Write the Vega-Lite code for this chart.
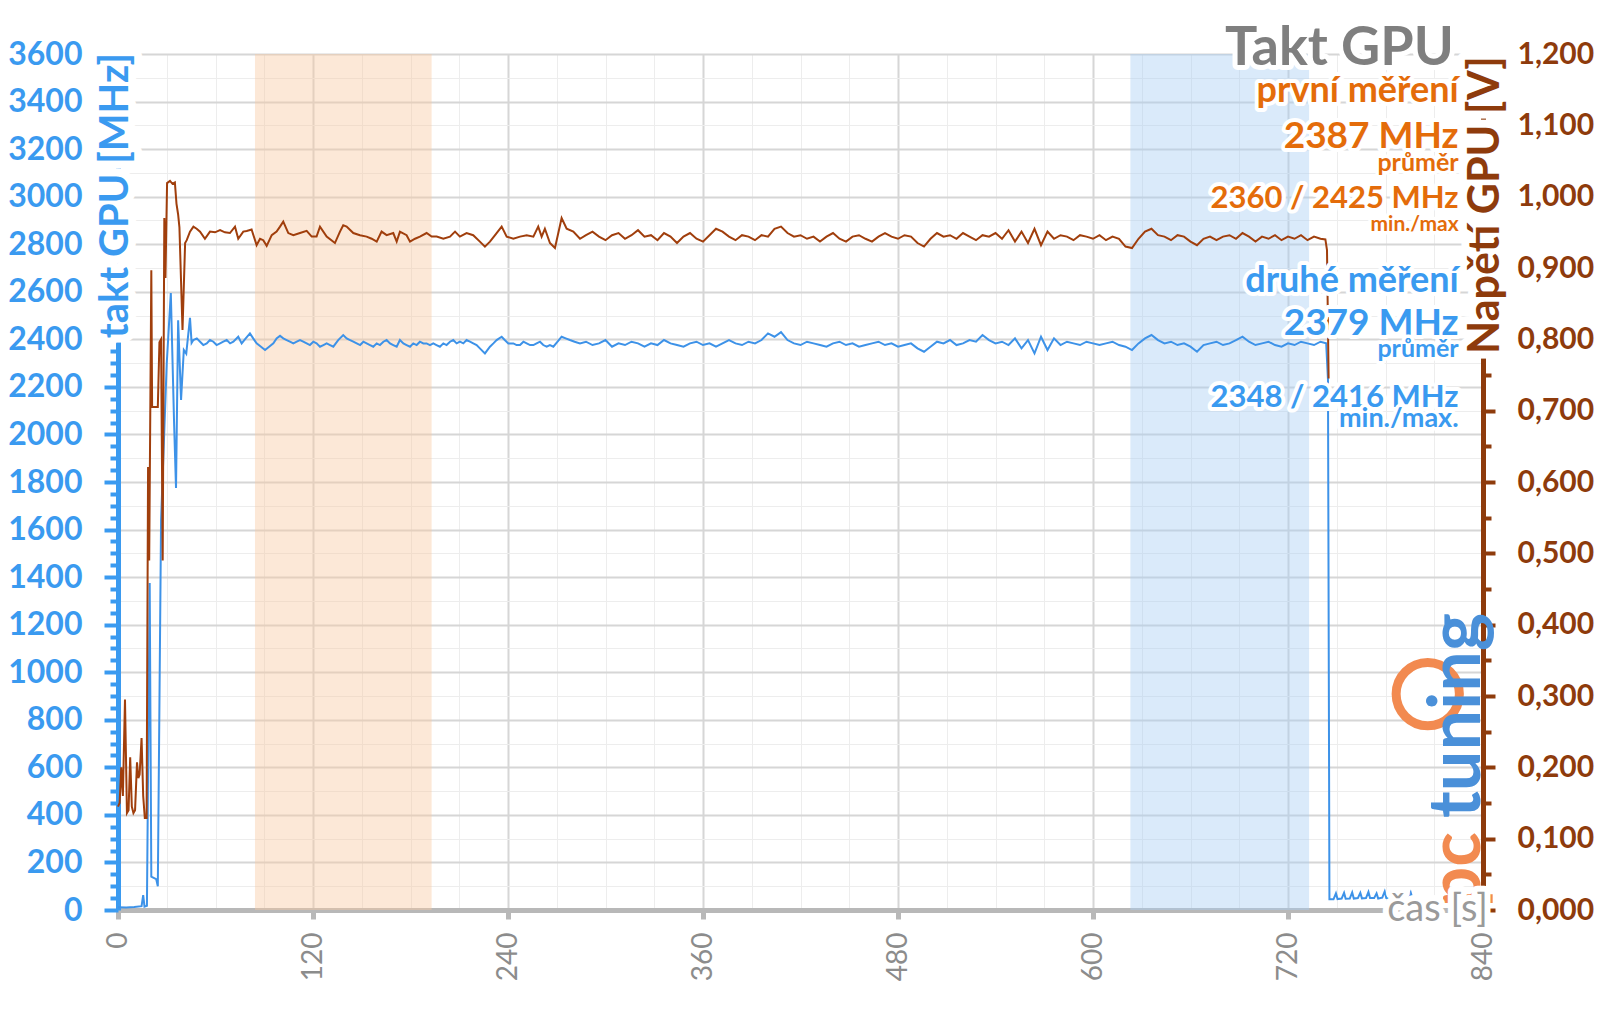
{
"$schema": "https://vega.github.io/schema/vega-lite/v6.json",
"width": 1365, "height": 856,
"autosize": {"type": "none"},
"padding": {"left": 118, "top": 54, "right": 117, "bottom": 99},
"background": "white",
"config": {"view": {"stroke": null}, "font": "Lato"},
"datasets": {
"clock": [
{"t":0,"mhz":12},{"t":5,"mhz":11},{"t":10,"mhz":13},{"t":14.5,"mhz":16},{"t":15.5,"mhz":63},{"t":16.3,"mhz":14},{"t":17.8,"mhz":18},{"t":19.5,"mhz":1375},{"t":20.5,"mhz":140},{"t":23.5,"mhz":130},{"t":24.5,"mhz":100},{"t":26.5,"mhz":1640},{"t":30,"mhz":2300},{"t":32.5,"mhz":2595},{"t":34.5,"mhz":2050},{"t":35.7,"mhz":1775},{"t":37,"mhz":2480},{"t":38.8,"mhz":2145},{"t":40.5,"mhz":2355},{"t":42,"mhz":2340},{"t":44.3,"mhz":2490},{"t":45.3,"mhz":2385},
{"t":46.4,"mhz":2397},{"t":48.5,"mhz":2404},{"t":50.5,"mhz":2390},{"t":52.5,"mhz":2376},{"t":54.6,"mhz":2383},{"t":56.6,"mhz":2397},{"t":58.7,"mhz":2390},{"t":60.7,"mhz":2376},{"t":62.8,"mhz":2383},{"t":64.8,"mhz":2390},{"t":66.9,"mhz":2397},{"t":69,"mhz":2383},{"t":71,"mhz":2390},{"t":74,"mhz":2411},{"t":76.1,"mhz":2383},{"t":78.6,"mhz":2404},{"t":81.2,"mhz":2425},{"t":83.2,"mhz":2404},{"t":85.3,"mhz":2383},{"t":88,"mhz":2369},{"t":90.5,"mhz":2355},{"t":93,"mhz":2369},{"t":95.6,"mhz":2383},{"t":97.6,"mhz":2404},{"t":99.7,"mhz":2415},{"t":101.7,"mhz":2404},{"t":103.8,"mhz":2397},{"t":105.8,"mhz":2390},{"t":107.9,"mhz":2383},{"t":110,"mhz":2390},{"t":112,"mhz":2397},{"t":114,"mhz":2390},{"t":116.1,"mhz":2383},{"t":118.1,"mhz":2376},{"t":120.2,"mhz":2390},{"t":122.2,"mhz":2383},{"t":124.3,"mhz":2369},{"t":126.4,"mhz":2376},{"t":128.4,"mhz":2383},{"t":130.5,"mhz":2376},{"t":132.5,"mhz":2369},{"t":135.5,"mhz":2397},{"t":138.6,"mhz":2418},{"t":140.7,"mhz":2404},{"t":142.8,"mhz":2397},{"t":144.8,"mhz":2390},{"t":146.9,"mhz":2383},{"t":149,"mhz":2376},{"t":151,"mhz":2390},{"t":153,"mhz":2383},{"t":155.1,"mhz":2376},{"t":157.1,"mhz":2369},{"t":159.2,"mhz":2383},{"t":161.2,"mhz":2376},{"t":163.3,"mhz":2390},{"t":165.3,"mhz":2397},{"t":167.4,"mhz":2383},{"t":169.4,"mhz":2376},{"t":171.5,"mhz":2369},{"t":173.5,"mhz":2397},{"t":175.6,"mhz":2383},{"t":177.6,"mhz":2376},{"t":179.7,"mhz":2369},{"t":181.7,"mhz":2383},{"t":183.8,"mhz":2376},{"t":185.8,"mhz":2390},{"t":187.9,"mhz":2383},{"t":189.9,"mhz":2383},{"t":192,"mhz":2376},{"t":194,"mhz":2383},{"t":196,"mhz":2376},{"t":198.1,"mhz":2369},{"t":200.2,"mhz":2383},{"t":202.2,"mhz":2376},{"t":204.3,"mhz":2390},{"t":206.3,"mhz":2397},{"t":208.4,"mhz":2383},{"t":210.4,"mhz":2390},{"t":212.5,"mhz":2383},{"t":214.5,"mhz":2397},{"t":216.6,"mhz":2390},{"t":218.6,"mhz":2383},{"t":220.7,"mhz":2376},{"t":222.7,"mhz":2362},{"t":225.8,"mhz":2341},{"t":228.9,"mhz":2369},{"t":231,"mhz":2383},{"t":233,"mhz":2397},{"t":236.1,"mhz":2411},{"t":238,"mhz":2397},{"t":240.2,"mhz":2383},{"t":243.3,"mhz":2383},{"t":245.3,"mhz":2376},{"t":247.4,"mhz":2376},{"t":249.5,"mhz":2390},{"t":251.5,"mhz":2383},{"t":253.6,"mhz":2376},{"t":255.6,"mhz":2376},{"t":257.6,"mhz":2383},{"t":259.7,"mhz":2390},{"t":261.7,"mhz":2376},{"t":263.8,"mhz":2369},{"t":265.8,"mhz":2376},{"t":267.9,"mhz":2369},{"t":270.5,"mhz":2390},{"t":273,"mhz":2411},{"t":275.5,"mhz":2404},{"t":278.1,"mhz":2397},{"t":281,"mhz":2390},{"t":284.3,"mhz":2383},
{"t":288,"mhz":2390},{"t":292,"mhz":2376},{"t":296,"mhz":2383},{"t":300,"mhz":2397},{"t":304,"mhz":2369},{"t":308,"mhz":2383},{"t":312,"mhz":2376},{"t":316,"mhz":2390},{"t":320,"mhz":2383},{"t":324,"mhz":2369},{"t":328,"mhz":2383},{"t":332,"mhz":2376},{"t":336,"mhz":2397},{"t":340,"mhz":2383},{"t":344,"mhz":2376},{"t":348,"mhz":2369},{"t":352,"mhz":2383},{"t":356,"mhz":2390},{"t":360,"mhz":2376},{"t":364,"mhz":2383},{"t":368,"mhz":2369},{"t":372,"mhz":2383},{"t":376,"mhz":2397},{"t":380,"mhz":2383},{"t":384,"mhz":2376},{"t":388,"mhz":2390},{"t":392,"mhz":2383},{"t":396,"mhz":2397},{"t":400,"mhz":2425},{"t":404,"mhz":2411},{"t":408,"mhz":2430},{"t":412,"mhz":2397},{"t":416,"mhz":2383},{"t":420,"mhz":2376},{"t":424,"mhz":2390},{"t":428,"mhz":2383},{"t":432,"mhz":2376},{"t":436,"mhz":2369},{"t":440,"mhz":2383},{"t":444,"mhz":2390},{"t":448,"mhz":2376},{"t":452,"mhz":2383},{"t":456,"mhz":2369},{"t":460,"mhz":2376},{"t":464,"mhz":2383},{"t":468,"mhz":2390},{"t":472,"mhz":2376},{"t":476,"mhz":2383},{"t":480,"mhz":2369},{"t":484,"mhz":2376},{"t":488,"mhz":2383},{"t":492,"mhz":2362},{"t":496,"mhz":2348},{"t":500,"mhz":2369},{"t":504,"mhz":2390},{"t":508,"mhz":2383},{"t":512,"mhz":2397},{"t":516,"mhz":2376},{"t":520,"mhz":2383},{"t":524,"mhz":2397},{"t":528,"mhz":2390},{"t":532,"mhz":2418},{"t":536,"mhz":2397},{"t":540,"mhz":2383},{"t":544,"mhz":2390},{"t":548,"mhz":2376},{"t":552,"mhz":2404},{"t":556,"mhz":2362},{"t":560,"mhz":2397},{"t":564,"mhz":2341},{"t":568,"mhz":2411},{"t":572,"mhz":2355},{"t":576,"mhz":2404},{"t":580,"mhz":2376},{"t":584,"mhz":2390},{"t":588,"mhz":2383},{"t":592,"mhz":2376},{"t":596,"mhz":2390},{"t":600,"mhz":2383},{"t":604,"mhz":2376},{"t":608,"mhz":2383},{"t":612,"mhz":2390},{"t":616,"mhz":2376},{"t":620,"mhz":2369},{"t":624,"mhz":2355},{"t":628,"mhz":2383},{"t":632,"mhz":2404},{"t":636,"mhz":2418},{"t":640,"mhz":2397},{"t":644,"mhz":2383},{"t":648,"mhz":2390},{"t":652,"mhz":2376},{"t":656,"mhz":2383},{"t":660,"mhz":2369},{"t":664,"mhz":2348},{"t":668,"mhz":2376},{"t":672,"mhz":2383},{"t":676,"mhz":2390},{"t":680,"mhz":2376},{"t":684,"mhz":2383},{"t":688,"mhz":2397},{"t":692,"mhz":2411},{"t":696,"mhz":2390},{"t":700,"mhz":2376},{"t":704,"mhz":2383},{"t":708,"mhz":2390},{"t":712,"mhz":2376},{"t":716,"mhz":2369},{"t":720,"mhz":2383},{"t":724,"mhz":2376},{"t":728,"mhz":2390},{"t":732,"mhz":2383},{"t":736,"mhz":2376},{"t":740,"mhz":2390},{"t":743.5,"mhz":2383},
{"t":744.6,"mhz":2230},{"t":745.5,"mhz":45},{"t":748,"mhz":45},{"t":749.5,"mhz":70},{"t":750.5,"mhz":46},{"t":753,"mhz":48},{"t":754.5,"mhz":72},{"t":755.5,"mhz":47},{"t":758,"mhz":48},{"t":759.5,"mhz":74},{"t":760.5,"mhz":48},{"t":763,"mhz":50},{"t":764.5,"mhz":72},{"t":765.5,"mhz":49},{"t":768,"mhz":50},{"t":769.5,"mhz":76},{"t":770.5,"mhz":50},{"t":773,"mhz":50},{"t":774.5,"mhz":70},{"t":775.5,"mhz":48},{"t":778,"mhz":52},{"t":779.5,"mhz":78},{"t":780.5,"mhz":50},{"t":784,"mhz":48},{"t":788,"mhz":52},{"t":789.5,"mhz":75},{"t":790.5,"mhz":50},{"t":794,"mhz":50},{"t":795.5,"mhz":74},{"t":796.5,"mhz":50},{"t":799,"mhz":52}
],
"volt": [
{"t":0,"v":0.145},{"t":1,"v":0.15},{"t":2,"v":0.2},{"t":3,"v":0.16},{"t":4.3,"v":0.295},{"t":5.5,"v":0.136},{"t":6.5,"v":0.14},{"t":7.5,"v":0.214},{"t":8.5,"v":0.145},{"t":9.5,"v":0.136},{"t":10.5,"v":0.14},{"t":11.7,"v":0.207},{"t":12.5,"v":0.185},{"t":13.3,"v":0.19},{"t":14.5,"v":0.241},{"t":15.5,"v":0.16},{"t":16.5,"v":0.129},{"t":17.6,"v":0.129},{"t":18.5,"v":0.621},{"t":19.2,"v":0.49},{"t":20.5,"v":0.897},{"t":21,"v":0.705},{"t":24.5,"v":0.705},{"t":25.5,"v":0.796},{"t":26.5,"v":0.8},{"t":27.5,"v":0.49},{"t":28.5,"v":0.97},{"t":29.2,"v":0.886},{"t":30.2,"v":1.019},{"t":32,"v":1.022},{"t":33.5,"v":1.018},{"t":35,"v":1.02},{"t":36,"v":0.99},{"t":37,"v":0.975},{"t":37.8,"v":0.957},{"t":39.7,"v":0.813},{"t":41.3,"v":0.935},{"t":42.3,"v":0.939},{"t":44.3,"v":0.951},
{"t":46.4,"v":0.958},{"t":48.4,"v":0.955},{"t":50.5,"v":0.951},{"t":53.5,"v":0.941},{"t":56.6,"v":0.951},{"t":59.7,"v":0.95},{"t":62.8,"v":0.953},{"t":65.8,"v":0.95},{"t":68.9,"v":0.949},{"t":72,"v":0.958},{"t":74,"v":0.941},{"t":77.1,"v":0.951},{"t":79.2,"v":0.952},{"t":82.2,"v":0.954},{"t":85.3,"v":0.932},{"t":87.4,"v":0.941},{"t":89.4,"v":0.939},{"t":91.5,"v":0.931},{"t":94.6,"v":0.946},{"t":97.6,"v":0.951},{"t":99.7,"v":0.958},{"t":101.7,"v":0.965},{"t":104.8,"v":0.949},{"t":107.9,"v":0.946},{"t":112,"v":0.949},{"t":116.1,"v":0.952},{"t":119.2,"v":0.944},{"t":122.2,"v":0.944},{"t":124.3,"v":0.958},{"t":128.4,"v":0.944},{"t":133.5,"v":0.935},{"t":136.6,"v":0.951},{"t":138.6,"v":0.96},{"t":140.7,"v":0.958},{"t":144.8,"v":0.949},{"t":148.9,"v":0.946},{"t":153,"v":0.944},{"t":156.1,"v":0.941},{"t":159.2,"v":0.937},{"t":162.2,"v":0.951},{"t":165.3,"v":0.946},{"t":169.4,"v":0.949},{"t":171.5,"v":0.937},{"t":173.5,"v":0.951},{"t":177.6,"v":0.946},{"t":179.7,"v":0.937},{"t":182.8,"v":0.941},{"t":185.8,"v":0.944},{"t":189.9,"v":0.949},{"t":193,"v":0.944},{"t":196.1,"v":0.944},{"t":200.2,"v":0.941},{"t":204.3,"v":0.944},{"t":207.4,"v":0.951},{"t":210.4,"v":0.944},{"t":214.5,"v":0.949},{"t":218.6,"v":0.946},{"t":222.7,"v":0.937},{"t":225.8,"v":0.93},{"t":228.9,"v":0.937},{"t":233,"v":0.949},{"t":236.1,"v":0.958},{"t":239.2,"v":0.944},{"t":243.3,"v":0.941},{"t":247.4,"v":0.944},{"t":251.5,"v":0.946},{"t":255.6,"v":0.944},{"t":258.6,"v":0.958},{"t":260.7,"v":0.944},{"t":262.7,"v":0.955},{"t":265.8,"v":0.935},{"t":268.9,"v":0.928},{"t":273,"v":0.97},{"t":276.1,"v":0.955},{"t":280.2,"v":0.951},{"t":284.3,"v":0.941},
{"t":288,"v":0.946},{"t":292,"v":0.951},{"t":296,"v":0.944},{"t":300,"v":0.939},{"t":304,"v":0.946},{"t":308,"v":0.949},{"t":312,"v":0.941},{"t":316,"v":0.946},{"t":320,"v":0.953},{"t":324,"v":0.944},{"t":328,"v":0.946},{"t":332,"v":0.939},{"t":336,"v":0.949},{"t":340,"v":0.944},{"t":344,"v":0.935},{"t":348,"v":0.944},{"t":352,"v":0.949},{"t":356,"v":0.941},{"t":360,"v":0.937},{"t":364,"v":0.946},{"t":368,"v":0.955},{"t":372,"v":0.951},{"t":376,"v":0.944},{"t":380,"v":0.939},{"t":384,"v":0.946},{"t":388,"v":0.944},{"t":392,"v":0.939},{"t":396,"v":0.946},{"t":400,"v":0.944},{"t":404,"v":0.955},{"t":408,"v":0.958},{"t":412,"v":0.949},{"t":416,"v":0.944},{"t":420,"v":0.946},{"t":424,"v":0.941},{"t":428,"v":0.944},{"t":432,"v":0.937},{"t":436,"v":0.944},{"t":440,"v":0.949},{"t":444,"v":0.941},{"t":448,"v":0.937},{"t":452,"v":0.944},{"t":456,"v":0.946},{"t":460,"v":0.941},{"t":464,"v":0.937},{"t":468,"v":0.944},{"t":472,"v":0.949},{"t":476,"v":0.944},{"t":480,"v":0.941},{"t":484,"v":0.946},{"t":488,"v":0.944},{"t":492,"v":0.935},{"t":496,"v":0.93},{"t":500,"v":0.941},{"t":504,"v":0.949},{"t":508,"v":0.944},{"t":512,"v":0.946},{"t":516,"v":0.941},{"t":520,"v":0.949},{"t":524,"v":0.944},{"t":528,"v":0.939},{"t":532,"v":0.946},{"t":536,"v":0.944},{"t":540,"v":0.949},{"t":544,"v":0.941},{"t":548,"v":0.953},{"t":552,"v":0.937},{"t":556,"v":0.951},{"t":560,"v":0.935},{"t":564,"v":0.955},{"t":568,"v":0.932},{"t":572,"v":0.951},{"t":576,"v":0.941},{"t":580,"v":0.946},{"t":584,"v":0.944},{"t":588,"v":0.939},{"t":592,"v":0.946},{"t":596,"v":0.944},{"t":600,"v":0.941},{"t":604,"v":0.946},{"t":608,"v":0.939},{"t":612,"v":0.944},{"t":616,"v":0.941},{"t":620,"v":0.93},{"t":624,"v":0.928},{"t":628,"v":0.941},{"t":632,"v":0.951},{"t":636,"v":0.955},{"t":640,"v":0.946},{"t":644,"v":0.944},{"t":648,"v":0.939},{"t":652,"v":0.946},{"t":656,"v":0.944},{"t":660,"v":0.937},{"t":664,"v":0.932},{"t":668,"v":0.941},{"t":672,"v":0.944},{"t":676,"v":0.939},{"t":680,"v":0.944},{"t":684,"v":0.946},{"t":688,"v":0.941},{"t":692,"v":0.949},{"t":696,"v":0.944},{"t":700,"v":0.937},{"t":704,"v":0.944},{"t":708,"v":0.941},{"t":712,"v":0.946},{"t":716,"v":0.939},{"t":720,"v":0.944},{"t":724,"v":0.941},{"t":728,"v":0.946},{"t":732,"v":0.939},{"t":736,"v":0.944},{"t":740,"v":0.941},{"t":743,"v":0.94},{"t":744,"v":0.925},{"t":745,"v":0.745}
],
"bands": [{"start":84.3,"end":193,"run":"první"},{"start":623,"end":733,"run":"druhé"}]
},
"layer": [
{
"layer": [
{"data":{"name":"bands"},"mark":{"type":"rect","opacity":0.42},
 "encoding":{"x":{"field":"start","type":"quantitative","title":null,"scale":{"domain":[0,840],"nice":false,"zero":false}},"x2":{"field":"end"},
 "color":{"field":"run","type":"nominal","legend":null,"scale":{"domain":["první","druhé"],"range":["#f9c9a0","#a8cdf2"]}}}},
{"data":{"name":"clock"},"mark":{"type":"line","color":"#3d92e8","strokeWidth":2},
 "encoding":{
  "x":{"field":"t","type":"quantitative","title":null,"scale":{"domain":[0,840],"nice":false,"zero":false},
   "axis":{"values":[0,15,30,45,60,75,90,105,120,135,150,165,180,195,210,225,240,255,270,285,300,315,330,345,360,375,390,405,420,435,450,465,480,495,510,525,540,555,570,585,600,615,630,645,660,675,690,705,720,735,750,765,780,795,810,825,840],
    "labelExpr":"datum.value % 120 === 0 ? datum.value + '' : ''","labelAngle":270,"labelFont":"Lato","labelFontSize":28,"labelColor":"#8c8c8c","labelPadding":13,"labelOverlap":false,"labelFlush":false,"labelBound":false,
    "grid":true,"gridColor":{"condition":{"test":"datum.value % 120 === 0","value":"#d6d6d6"},"value":"#ededed"},"gridWidth":{"condition":{"test":"datum.value % 120 === 0","value":2},"value":1},
    "ticks":true,"tickColor":"#b8b8b8","tickWidth":5,"tickSize":9,"tickOpacity":{"condition":{"test":"datum.value % 120 === 0","value":1},"value":0},
    "domainColor":"#b8b8b8","domainWidth":5,"title":null}},
  "y":{"field":"mhz","type":"quantitative","title":null,"scale":{"domain":[0,3600],"nice":false,"zero":true},
   "axis":{"orient":"left","values":[0,50,100,150,200,250,300,350,400,450,500,550,600,650,700,750,800,850,900,950,1000,1050,1100,1150,1200,1250,1300,1350,1400,1450,1500,1550,1600,1650,1700,1750,1800,1850,1900,1950,2000,2050,2100,2150,2200,2250,2300,2350,2400,2450,2500,2550,2600,2650,2700,2750,2800,2850,2900,2950,3000,3050,3100,3150,3200,3250,3300,3350,3400,3450,3500,3550,3600],
    "labelExpr":"datum.value % 200 === 0 ? datum.value + '' : ''","labelFont":"Lato","labelFontWeight":"bold","labelFontSize":32,"labelColor":"#3a9af0","labelPadding":22,"labelOverlap":false,"labelBound":false,"labelFlush":false,
    "grid":true,"gridColor":{"condition":{"test":"datum.value % 200 === 0","value":"#d6d6d6"},"value":"#ededed"},"gridWidth":{"condition":{"test":"datum.value % 200 === 0","value":2},"value":1},"gridOpacity":{"condition":{"test":"datum.value % 100 === 0","value":1},"value":0},
    "tickColor":"#3a9af0","tickWidth":4,"tickSize":{"condition":{"test":"datum.value % 200 === 0","value":14},"value":8},
    "domainColor":"#3a9af0","domainWidth":5,"title":null}}}}
]
},
{"data":{"name":"volt"},"mark":{"type":"line","color":"#a03e0c","strokeWidth":2},
 "encoding":{
  "x":{"field":"t","type":"quantitative","title":null,"scale":{"domain":[0,840],"nice":false,"zero":false}},
  "y":{"field":"v","type":"quantitative","title":null,"scale":{"domain":[0,1.2],"nice":false,"zero":true},
   "axis":{"orient":"right","values":[0,0.05,0.1,0.15,0.2,0.25,0.3,0.35,0.4,0.45,0.5,0.55,0.6,0.65,0.7,0.75,0.8,0.85,0.9,0.95,1,1.05,1.1,1.15,1.2],
    "labelExpr":"round(datum.value*20) % 2 === 0 ? replace(format(datum.value, '.3f'), '.', ',') : ''","labelFont":"Lato","labelFontWeight":"bold","labelFontSize":30,"labelColor":"#8e3b0c","labelPadding":22,"labelOverlap":false,"labelBound":false,"labelFlush":false,
    "grid":false,"tickColor":"#8e3b0c","tickWidth":4,"tickSize":{"condition":{"test":"round(datum.value*20) % 2 === 0","value":12},"value":8},
    "domainColor":"#8e3b0c","domainWidth":5,"title":null}}}},
{
"layer": [
{"data":{"values":[{"label":"clock"}]},"mark":{"type":"point","shape":"circle","size":4000,"filled":true,"color":"white","stroke":"#f28a50","strokeWidth":9,"opacity":1},
 "encoding":{"x":{"datum":806,"type":"quantitative","scale":{"domain":[0,840]}},"y":{"datum":908,"type":"quantitative","scale":{"domain":[0,3600]},"axis":null}}},
{"data":{"values":[{"label":"pc"}]},"mark":{"type":"text","angle":270,"align":"left","baseline":"alphabetic","font":"Lato","fontWeight":"bold","fontSize":72,"color":"#f28a50"},
 "encoding":{"x":{"datum":838,"type":"quantitative","scale":{"domain":[0,840]}},"y":{"datum":10,"type":"quantitative","scale":{"domain":[0,3600]},"axis":null},"text":{"field":"label"}}},
{"data":{"values":[{"label":"tuning"}]},"mark":{"type":"text","angle":270,"align":"left","baseline":"alphabetic","font":"Lato","fontWeight":"bold","fontSize":72,"color":"#4a90d9"},
 "encoding":{"x":{"datum":838,"type":"quantitative","scale":{"domain":[0,840]}},"y":{"datum":387,"type":"quantitative","scale":{"domain":[0,3600]},"axis":null},"text":{"field":"label"}}},
{"data":{"values":[{"label":"takt GPU [MHz]"}]},
 "encoding":{"x":{"datum":6.2,"type":"quantitative","scale":{"domain":[0,840]}},"y":{"datum":3604,"type":"quantitative","scale":{"domain":[0,3600]},"axis":null},"text":{"field":"label"}},
 "layer":[{"mark":{"type":"text","angle":270,"align":"right","baseline":"alphabetic","font":"Lato","fontWeight":"bold","fontSize":40,"fill":"white","stroke":"white","strokeWidth":16,"strokeJoin":"round"}},
  {"mark":{"type":"text","angle":270,"align":"right","baseline":"alphabetic","font":"Lato","fontWeight":"bold","fontSize":40,"color":"#3a9af0"}}]},
{"data":{"values":[{"label":"Napětí GPU [V]"}]},
 "encoding":{"x":{"datum":850,"type":"quantitative","scale":{"domain":[0,840]}},"y":{"datum":3591,"type":"quantitative","scale":{"domain":[0,3600]},"axis":null},"text":{"field":"label"}},
 "layer":[{"mark":{"type":"text","angle":270,"align":"right","baseline":"alphabetic","font":"Lato","fontWeight":"bold","fontSize":43,"fill":"white","stroke":"white","strokeWidth":16,"strokeJoin":"round"}},
  {"mark":{"type":"text","angle":270,"align":"right","baseline":"alphabetic","font":"Lato","fontWeight":"bold","fontSize":43,"color":"#8e3b0c"}}]},
{"data":{"values":[{"label":"čas [s]"}]},
 "encoding":{"x":{"datum":843,"type":"quantitative","scale":{"domain":[0,840]}},"y":{"datum":-46,"type":"quantitative","scale":{"domain":[0,3600]},"axis":null},"text":{"field":"label"}},
 "layer":[{"mark":{"type":"text","align":"right","baseline":"alphabetic","font":"Lato","fontSize":38,"fill":"white","stroke":"white","strokeWidth":12,"strokeJoin":"round"}},
  {"mark":{"type":"text","align":"right","baseline":"alphabetic","font":"Lato","fontSize":38,"color":"#9a9a9a"}}]},
{"data":{"values":[{"label":"Takt GPU"}]},
 "encoding":{"x":{"datum":822,"type":"quantitative","scale":{"domain":[0,840]}},"y":{"datum":3553,"type":"quantitative","scale":{"domain":[0,3600]},"axis":null},"text":{"field":"label"}},
 "layer":[{"mark":{"type":"text","align":"right","baseline":"alphabetic","font":"Lato","fontWeight":"bold","fontSize":54,"fill":"white","stroke":"white","strokeWidth":10,"strokeJoin":"round"}},
  {"mark":{"type":"text","align":"right","baseline":"alphabetic","font":"Lato","fontWeight":"bold","fontSize":54,"color":"#7f7f7f"}}]},
{"data":{"values":[{"label":"první měření"}]},
 "encoding":{"x":{"datum":825,"type":"quantitative","scale":{"domain":[0,840]}},"y":{"datum":3400,"type":"quantitative","scale":{"domain":[0,3600]},"axis":null},"text":{"field":"label"}},
 "layer":[{"mark":{"type":"text","align":"right","baseline":"alphabetic","font":"Lato","fontWeight":"bold","fontSize":36,"fill":"white","stroke":"white","strokeWidth":8,"strokeJoin":"round"}},
  {"mark":{"type":"text","align":"right","baseline":"alphabetic","font":"Lato","fontWeight":"bold","fontSize":36,"color":"#e46c0a"}}]},
{"data":{"values":[{"label":"2387 MHz"}]},
 "encoding":{"x":{"datum":825,"type":"quantitative","scale":{"domain":[0,840]}},"y":{"datum":3204,"type":"quantitative","scale":{"domain":[0,3600]},"axis":null},"text":{"field":"label"}},
 "layer":[{"mark":{"type":"text","align":"right","baseline":"alphabetic","font":"Lato","fontWeight":"bold","fontSize":37,"fill":"white","stroke":"white","strokeWidth":8,"strokeJoin":"round"}},
  {"mark":{"type":"text","align":"right","baseline":"alphabetic","font":"Lato","fontWeight":"bold","fontSize":37,"color":"#e46c0a"}}]},
{"data":{"values":[{"label":"průměr"}]},
 "encoding":{"x":{"datum":825,"type":"quantitative","scale":{"domain":[0,840]}},"y":{"datum":3110,"type":"quantitative","scale":{"domain":[0,3600]},"axis":null},"text":{"field":"label"}},
 "layer":[{"mark":{"type":"text","align":"right","baseline":"alphabetic","font":"Lato","fontWeight":"bold","fontSize":25,"fill":"white","stroke":"white","strokeWidth":7,"strokeJoin":"round"}},
  {"mark":{"type":"text","align":"right","baseline":"alphabetic","font":"Lato","fontWeight":"bold","fontSize":25,"color":"#e46c0a"}}]},
{"data":{"values":[{"label":"2360 / 2425 MHz"}]},
 "encoding":{"x":{"datum":825,"type":"quantitative","scale":{"domain":[0,840]}},"y":{"datum":2952,"type":"quantitative","scale":{"domain":[0,3600]},"axis":null},"text":{"field":"label"}},
 "layer":[{"mark":{"type":"text","align":"right","baseline":"alphabetic","font":"Lato","fontWeight":"bold","fontSize":31,"fill":"white","stroke":"white","strokeWidth":8,"strokeJoin":"round"}},
  {"mark":{"type":"text","align":"right","baseline":"alphabetic","font":"Lato","fontWeight":"bold","fontSize":31,"color":"#e46c0a"}}]},
{"data":{"values":[{"label":"min./max"}]},
 "encoding":{"x":{"datum":825,"type":"quantitative","scale":{"domain":[0,840]}},"y":{"datum":2855,"type":"quantitative","scale":{"domain":[0,3600]},"axis":null},"text":{"field":"label"}},
 "layer":[{"mark":{"type":"text","align":"right","baseline":"alphabetic","font":"Lato","fontWeight":"bold","fontSize":21,"fill":"white","stroke":"white","strokeWidth":7,"strokeJoin":"round"}},
  {"mark":{"type":"text","align":"right","baseline":"alphabetic","font":"Lato","fontWeight":"bold","fontSize":21,"color":"#e46c0a"}}]},
{"data":{"values":[{"label":"druhé měření"}]},
 "encoding":{"x":{"datum":825,"type":"quantitative","scale":{"domain":[0,840]}},"y":{"datum":2599,"type":"quantitative","scale":{"domain":[0,3600]},"axis":null},"text":{"field":"label"}},
 "layer":[{"mark":{"type":"text","align":"right","baseline":"alphabetic","font":"Lato","fontWeight":"bold","fontSize":36,"fill":"white","stroke":"white","strokeWidth":8,"strokeJoin":"round"}},
  {"mark":{"type":"text","align":"right","baseline":"alphabetic","font":"Lato","fontWeight":"bold","fontSize":36,"color":"#3a9af0"}}]},
{"data":{"values":[{"label":"2379 MHz"}]},
 "encoding":{"x":{"datum":825,"type":"quantitative","scale":{"domain":[0,840]}},"y":{"datum":2418,"type":"quantitative","scale":{"domain":[0,3600]},"axis":null},"text":{"field":"label"}},
 "layer":[{"mark":{"type":"text","align":"right","baseline":"alphabetic","font":"Lato","fontWeight":"bold","fontSize":37,"fill":"white","stroke":"white","strokeWidth":8,"strokeJoin":"round"}},
  {"mark":{"type":"text","align":"right","baseline":"alphabetic","font":"Lato","fontWeight":"bold","fontSize":37,"color":"#3a9af0"}}]},
{"data":{"values":[{"label":"průměr"}]},
 "encoding":{"x":{"datum":825,"type":"quantitative","scale":{"domain":[0,840]}},"y":{"datum":2325,"type":"quantitative","scale":{"domain":[0,3600]},"axis":null},"text":{"field":"label"}},
 "layer":[{"mark":{"type":"text","align":"right","baseline":"alphabetic","font":"Lato","fontWeight":"bold","fontSize":25,"fill":"white","stroke":"white","strokeWidth":7,"strokeJoin":"round"}},
  {"mark":{"type":"text","align":"right","baseline":"alphabetic","font":"Lato","fontWeight":"bold","fontSize":25,"color":"#3a9af0"}}]},
{"data":{"values":[{"label":"2348 / 2416 MHz"}]},
 "encoding":{"x":{"datum":825,"type":"quantitative","scale":{"domain":[0,840]}},"y":{"datum":2115,"type":"quantitative","scale":{"domain":[0,3600]},"axis":null},"text":{"field":"label"}},
 "layer":[{"mark":{"type":"text","align":"right","baseline":"alphabetic","font":"Lato","fontWeight":"bold","fontSize":31,"fill":"white","stroke":"white","strokeWidth":8,"strokeJoin":"round"}},
  {"mark":{"type":"text","align":"right","baseline":"alphabetic","font":"Lato","fontWeight":"bold","fontSize":31,"color":"#3a9af0"}}]},
{"data":{"values":[{"label":"min./max."}]},
 "encoding":{"x":{"datum":825,"type":"quantitative","scale":{"domain":[0,840]}},"y":{"datum":2032,"type":"quantitative","scale":{"domain":[0,3600]},"axis":null},"text":{"field":"label"}},
 "layer":[{"mark":{"type":"text","align":"right","baseline":"alphabetic","font":"Lato","fontWeight":"bold","fontSize":27,"fill":"white","stroke":"white","strokeWidth":7,"strokeJoin":"round"}},
  {"mark":{"type":"text","align":"right","baseline":"alphabetic","font":"Lato","fontWeight":"bold","fontSize":27,"color":"#3a9af0"}}]}
]
}
],
"resolve": {"scale": {"y": "independent"}, "axis": {"y": "independent"}}
}
